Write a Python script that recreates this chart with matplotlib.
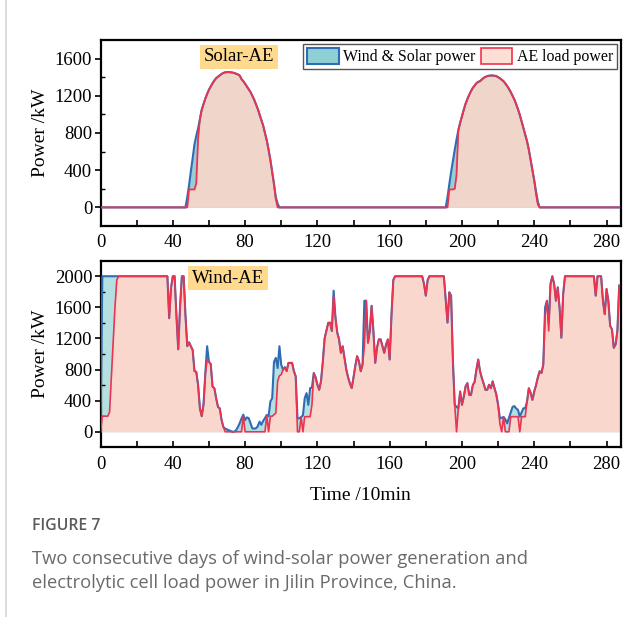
import matplotlib
matplotlib.use("Agg")
import matplotlib.pyplot as plt
from matplotlib.patches import Patch
from matplotlib.lines import Line2D
import numpy as np

plt.rcParams['font.family'] = ['Liberation Serif', 'DejaVu Serif']

# ---------------- data ----------------
# Solar-AE panel (288 points, 10-min steps)
solar_day1 = [0, 110, 240, 390, 530, 680, 770, 850, 950, 1050, 1110, 1170, 1220, 1265,
              1300, 1335, 1365, 1390, 1405, 1420, 1435, 1446, 1452, 1455, 1455, 1453,
              1450, 1445, 1438, 1430, 1418, 1380, 1357, 1330, 1300, 1270, 1240, 1200,
              1160, 1110, 1060, 1000, 940, 880, 800, 720, 620, 510, 380, 250, 110, 40, 0]   # idx 47..99
load_day1 = [0, 0, 193, 193, 193, 193, 260, 740, 950, 1050, 1110, 1170, 1220, 1265,
             1300, 1335, 1365, 1390, 1405, 1420, 1435, 1446, 1452, 1455, 1455, 1453,
             1450, 1445, 1438, 1430, 1418, 1380, 1357, 1330, 1300, 1270, 1240, 1200,
             1160, 1110, 1060, 1000, 940, 880, 800, 720, 620, 510, 380, 250, 90, 0, 0]     # idx 47..99
solar_day2 = [0, 110, 250, 380, 500, 620, 730, 830, 910, 981, 1050, 1115, 1165, 1210,
              1250, 1285, 1310, 1335, 1350, 1357, 1375, 1393, 1403, 1412, 1416, 1418,
              1418, 1415, 1412, 1400, 1388, 1372, 1357, 1332, 1305, 1275, 1240, 1200,
              1160, 1110, 1055, 995, 925, 858, 785, 712, 620, 510, 400, 290, 170, 60, 0]    # idx 191..243
load_day2 = [0, 0, 193, 193, 193, 200, 350, 830, 910, 981, 1050, 1115, 1165, 1210,
             1250, 1285, 1310, 1335, 1350, 1357, 1375, 1393, 1403, 1412, 1416, 1418,
             1418, 1415, 1412, 1400, 1388, 1372, 1357, 1332, 1305, 1275, 1240, 1200,
             1160, 1110, 1055, 995, 925, 858, 785, 712, 620, 510, 400, 290, 140, 30, 0]    # idx 191..243

solar_power = [0] * 47 + solar_day1 + [0] * 91 + solar_day2 + [0] * 44
solar_load = [0] * 47 + load_day1 + [0] * 91 + load_day2 + [0] * 44

# Wind-AE panel
wind_power = ([0] + [2000] * 37 +
              [1460, 1850, 2000, 2000, 1500, 1060, 1600, 2000, 2000, 1500, 1100, 1150,
               1100, 1050, 780, 770, 600, 300, 200, 350, 750, 1100, 900, 870, 580, 560,
               430, 320, 300, 150, 60, 40, 30, 20, 10, 0, 0, 20, 60, 110, 170, 220, 150,
               185, 175, 110, 45, 40, 45, 70, 130, 90, 140, 175, 216, 200, 390, 430, 900,
               950, 820, 1100, 860, 800, 830, 780, 886, 886, 886, 780, 713, 173, 173, 190,
               210, 432, 497, 346, 562, 570, 756, 700, 605, 540, 650, 900, 1200, 1300,
               1400, 1404, 1296, 1814, 1469, 1274, 1188, 1015, 1100, 950, 800, 700, 620,
               562, 700, 850, 972, 907, 778, 864, 1685, 1685, 1145, 1296, 1620, 1296,
               886, 1080, 1188, 1188, 1100, 1015, 1123, 1188, 929, 1500, 1950] +
              [2000] * 16 + [1900, 1750, 1950] + [2000] * 9 +
              [1700, 1404, 1793, 1750, 907, 346, 320, 302, 518, 346, 450, 583, 626, 475,
               475, 600, 640, 800, 929, 780, 691, 620, 540, 540, 605, 560, 648, 560, 480,
               346, 173, 180, 190, 160, 108, 180, 250, 320, 330, 300, 281, 194, 250, 302,
               302, 389, 560, 500, 410, 518, 600, 700, 778, 756, 864, 1598, 1685, 1400,
               1900, 2000, 1900, 1685, 1857, 1600, 1210, 1771] +
              [2000] * 17 + [1750, 2000, 2000, 2000, 1685, 1512, 1836, 1685, 1361, 1318,
                             1080, 1123, 1296, 1880])

wind_load = ([0, 200, 200, 200, 200, 250, 700, 1150, 1600, 1950] + [2000] * 28 +
             [1460, 1850, 2000, 2000, 1500, 1060, 1600, 2000, 2000, 1500, 1100, 1150,
              1100, 1050, 780, 770, 600, 300, 200, 350, 750, 920, 900, 870, 580, 560,
              430, 320, 300, 150, 60, 0, 0, 0, 0, 0, 0, 0, 0, 0, 0, 200, 0,
              0, 0, 0, 0, 0, 0, 0, 0, 0, 0, 0, 210, 0, 200, 200, 220,
              240, 650, 720, 735, 800, 830, 780, 886, 886, 886, 780, 713, 0, 0, 190,
              0, 194, 194, 194, 194, 350, 756, 700, 605, 540, 650, 900, 1200, 1300,
              1400, 1404, 1296, 1750, 1469, 1274, 1188, 1015, 1100, 950, 800, 700, 620,
              562, 700, 850, 972, 907, 778, 864, 1100, 1685, 1145, 1296, 1620, 1296,
              886, 1080, 1188, 1188, 1100, 1015, 1123, 1188, 929, 1500, 1950] +
             [2000] * 16 + [1900, 1750, 1950] + [2000] * 9 +
             [1700, 1404, 1793, 1750, 907, 346, 0, 302, 518, 346, 450, 583, 626, 475,
              475, 600, 640, 800, 929, 780, 691, 620, 540, 540, 605, 560, 648, 560, 480,
              346, 100, 0, 194, 0, 0, 0, 194, 194, 194, 194, 194, 0, 194, 194,
              194, 389, 560, 500, 410, 518, 600, 700, 778, 756, 864, 1500, 1685, 1296,
              1900, 2000, 1900, 1685, 1857, 1600, 1210, 1771] +
             [2000] * 17 + [1750, 2000, 2000, 2000, 1685, 1512, 1836, 1685, 1361, 1318,
                            1080, 1123, 1296, 1880])

time_idx = np.arange(len(wind_power))
x_ticks = [0, 40, 80, 120, 160, 200, 240, 280]
solar_yticks = [0, 400, 800, 1200, 1600]
wind_yticks = [0, 400, 800, 1200, 1600, 2000]
legend_labels = ["Wind & Solar power", "AE load power"]

# ---------------- style ----------------
BLUE_LINE = '#2E6DB4'
RED_LINE = '#EE3350'
LEG_BLUE = '#8FCFD6'
LEG_RED = '#FDDFD6'
TAG_BG = '#FED98E'
FS = 13.5

fig = plt.figure(figsize=(6.41, 6.17), dpi=100)
ax1 = fig.add_axes([0.1568, 0.6337, 0.812, 0.3015])
ax2 = fig.add_axes([0.1568, 0.2750, 0.812, 0.3025])

def style(ax, ylim, yticks):
    ax.set_xlim(0, 288)
    ax.set_ylim(*ylim)
    ax.set_xticks(x_ticks)
    ax.set_xticks(np.arange(20, 288, 40), minor=True)
    ax.set_yticks(yticks)
    ax.set_yticks(np.arange(200, ylim[1], 400), minor=True)
    ax.tick_params(axis='x', which='both', direction='in', labelsize=FS,
                   length=4, width=1.2, pad=6)
    ax.tick_params(axis='y', which='major', direction='out', labelsize=FS,
                   length=4.5, width=1.2, pad=1.5)
    ax.tick_params(axis='y', which='minor', direction='in', length=3, width=1.0)
    for s in ax.spines.values():
        s.set_linewidth(1.6)
    ax.set_ylabel("Power /kW", fontsize=FS + 0.5, labelpad=4)

# top: solar
ax1.fill_between(time_idx, 0, solar_power, color='#96D0D6', lw=0, zorder=1)
ax1.fill_between(time_idx, 0, solar_load, color='#EFD5CA', lw=0, zorder=2)
ax1.plot(time_idx, solar_power, color=BLUE_LINE, lw=1.5, zorder=3)
ax1.plot(time_idx, solar_load, color=RED_LINE, lw=1.3, zorder=4)
style(ax1, (-200, 1800), solar_yticks)
ax1.text(0.266, 0.909, "Solar-AE", transform=ax1.transAxes, ha='center', va='center',
         fontsize=FS, bbox=dict(boxstyle='square,pad=0.2', fc=TAG_BG, ec='none'), zorder=6)
handles = [Patch(facecolor=LEG_BLUE, edgecolor=BLUE_LINE, lw=1.5),
           Patch(facecolor=LEG_RED, edgecolor=RED_LINE, lw=1.2)]
leg = ax1.legend(handles, legend_labels, ncol=2, loc='upper right',
                 bbox_to_anchor=(0.993, 0.978), fontsize=11.4, frameon=True,
                 fancybox=False, borderpad=0.25, handlelength=2.0, handleheight=1.15,
                 handletextpad=0.3, columnspacing=0.3, borderaxespad=0.0)
leg.get_frame().set_edgecolor('#555555')
leg.get_frame().set_linewidth(1.0)
leg.get_frame().set_alpha(1)

# bottom: wind
ax2.fill_between(time_idx, 0, wind_power, color='#B5E0E1', lw=0, zorder=1)
ax2.fill_between(time_idx, 0, wind_load, color='#F9D7CD', lw=0, zorder=2)
ax2.plot(time_idx, wind_power, color=BLUE_LINE, lw=1.5, zorder=3)
ax2.plot(time_idx, wind_load, color=RED_LINE, lw=1.2, zorder=4)
style(ax2, (-200, 2200), wind_yticks)
ax2.set_xlabel("Time /10min", fontsize=FS + 0.5, labelpad=10)
ax2.text(0.245, 0.907, "Wind-AE", transform=ax2.transAxes, ha='center', va='center',
         fontsize=FS, bbox=dict(boxstyle='square,pad=0.2', fc=TAG_BG, ec='none'), zorder=6)

# caption
cap_font = ['Open Sans', 'DejaVu Sans']
fig.text(0.05, 0.1475, "FIGURE 7", fontsize=11.3, color='#5a5a5a', family=cap_font,
         fontweight='semibold', va='center', ha='left')
fig.text(0.05, 0.0940, "Two consecutive days of wind-solar power generation and",
         fontsize=13.2, color='#6a6a6a', family=cap_font, va='center', ha='left')
fig.text(0.05, 0.0550, "electrolytic cell load power in Jilin Province, China.",
         fontsize=13.2, color='#6a6a6a', family=cap_font, va='center', ha='left')
fig.add_artist(Line2D([5.5 / 641, 5.5 / 641], [0, 1], transform=fig.transFigure,
                      color='#D5D5D5', lw=1.2))

fig.savefig("out.png", dpi=100)
